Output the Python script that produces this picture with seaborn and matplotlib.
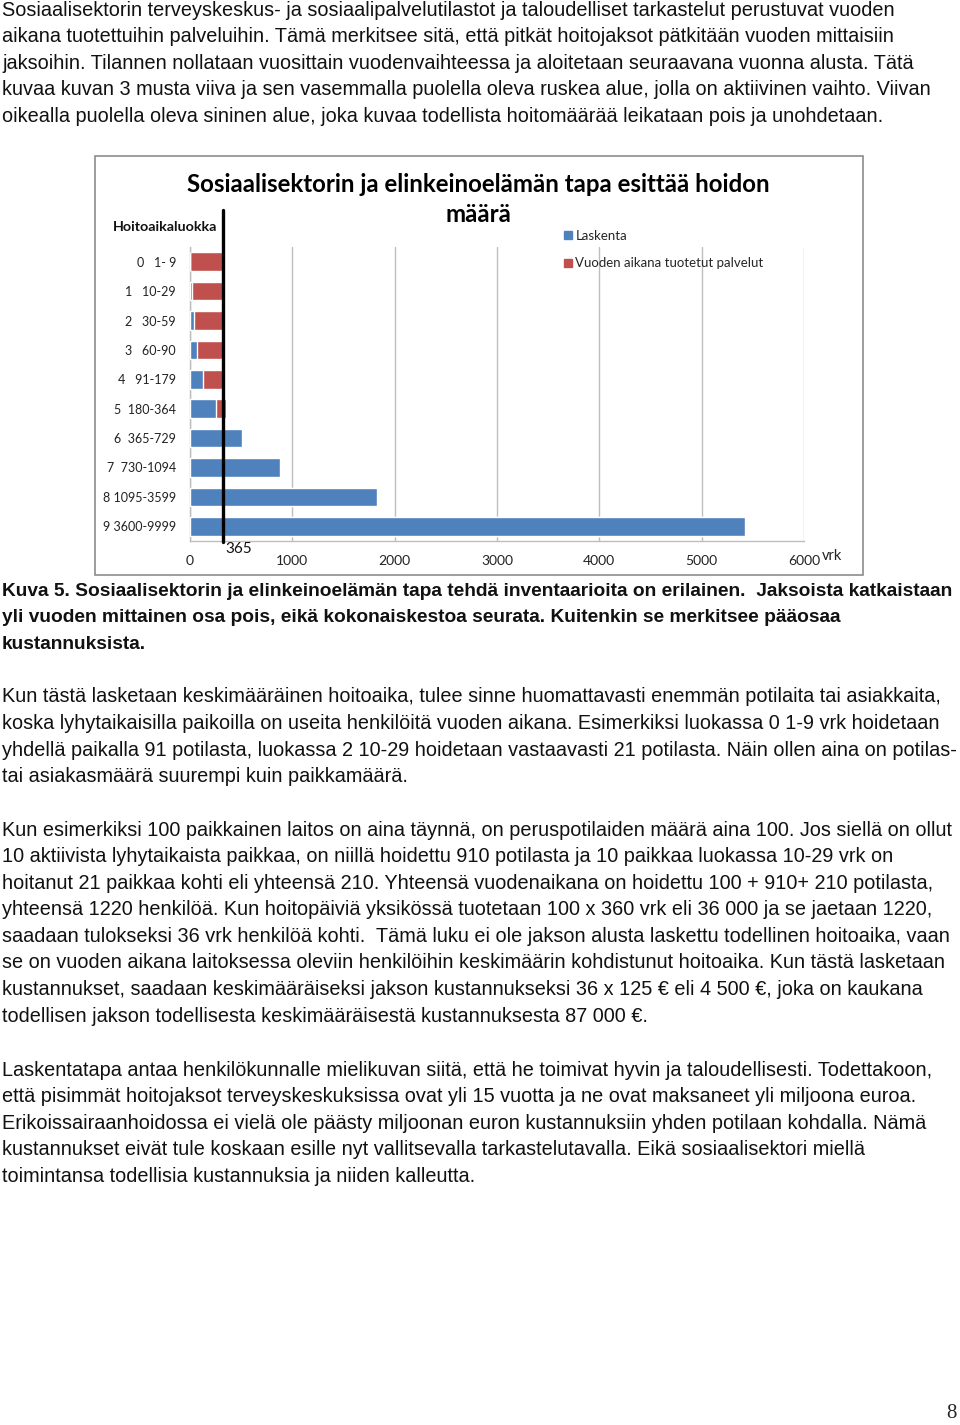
#!/usr/bin/env python3
# -*- coding: utf-8 -*-
"""Sivu 8: hoitoaikaluokat, Laskenta vs. vuoden aikana tuotetut palvelut"""

import matplotlib
matplotlib.use('Agg')
import matplotlib.pyplot as plt
import matplotlib.patches as mpatches
import pandas as pd
import seaborn as sns

# --- data -------------------------------------------------------------
CLASSES = ["0   1- 9", "1   10-29", "2   30-59", "3   60-90", "4   91-179",
           "5  180-364", "6  365-729", "7  730-1094", "8 1095-3599", "9 3600-9999"]
LASKENTA = [0, 15, 39, 71, 130, 251, 511, 879, 1823, 5427]
PALVELUT = [325, 310, 286, 254, 202, 101, 0, 0, 0, 0]
X_TICKS = [0, 1000, 2000, 3000, 4000, 5000, 6000]
YEAR_LINE = 325          # where the black line sits on the axis
YEAR_LABEL = "365"

TITLE_LINES = ["Sosiaalisektorin ja elinkeinoelämän tapa esittää hoidon", "määrä"]
LEGEND_LABELS = ["Laskenta", "Vuoden aikana tuotetut palvelut"]
BLUE = '#4F81BD'
RED = '#C0504D'

PARA_TOP = [
    "Sosiaalisektorin terveyskeskus- ja sosiaalipalvelutilastot ja taloudelliset tarkastelut perustuvat vuoden",
    "aikana tuotettuihin palveluihin. Tämä merkitsee sitä, että pitkät hoitojaksot pätkitään vuoden mittaisiin",
    "jaksoihin. Tilannen nollataan vuosittain vuodenvaihteessa ja aloitetaan seuraavana vuonna alusta. Tätä",
    "kuvaa kuvan 3 musta viiva ja sen vasemmalla puolella oleva ruskea alue, jolla on aktiivinen vaihto. Viivan",
    "oikealla puolella oleva sininen alue, joka kuvaa todellista hoitomäärää leikataan pois ja unohdetaan.",
]
CAPTION = [
    "Kuva 5. Sosiaalisektorin ja elinkeinoelämän tapa tehdä inventaarioita on erilainen.  Jaksoista katkaistaan",
    "yli vuoden mittainen osa pois, eikä kokonaiskestoa seurata. Kuitenkin se merkitsee pääosaa",
    "kustannuksista.",
]
PARA_2 = [
    "Kun tästä lasketaan keskimääräinen hoitoaika, tulee sinne huomattavasti enemmän potilaita tai asiakkaita,",
    "koska lyhytaikaisilla paikoilla on useita henkilöitä vuoden aikana. Esimerkiksi luokassa 0 1-9 vrk hoidetaan",
    "yhdellä paikalla 91 potilasta, luokassa 2 10-29 hoidetaan vastaavasti 21 potilasta. Näin ollen aina on potilas-",
    "tai asiakasmäärä suurempi kuin paikkamäärä.",
]
PARA_3 = [
    "Kun esimerkiksi 100 paikkainen laitos on aina täynnä, on peruspotilaiden määrä aina 100. Jos siellä on ollut",
    "10 aktiivista lyhytaikaista paikkaa, on niillä hoidettu 910 potilasta ja 10 paikkaa luokassa 10-29 vrk on",
    "hoitanut 21 paikkaa kohti eli yhteensä 210. Yhteensä vuodenaikana on hoidettu 100 + 910+ 210 potilasta,",
    "yhteensä 1220 henkilöä. Kun hoitopäiviä yksikössä tuotetaan 100 x 360 vrk eli 36 000 ja se jaetaan 1220,",
    "saadaan tulokseksi 36 vrk henkilöä kohti.  Tämä luku ei ole jakson alusta laskettu todellinen hoitoaika, vaan",
    "se on vuoden aikana laitoksessa oleviin henkilöihin keskimäärin kohdistunut hoitoaika. Kun tästä lasketaan",
    "kustannukset, saadaan keskimääräiseksi jakson kustannukseksi 36 x 125 € eli 4 500 €, joka on kaukana",
    "todellisen jakson todellisesta keskimääräisestä kustannuksesta 87 000 €.",
]
PARA_4 = [
    "Laskentatapa antaa henkilökunnalle mielikuvan siitä, että he toimivat hyvin ja taloudellisesti. Todettakoon,",
    "että pisimmät hoitojaksot terveyskeskuksissa ovat yli 15 vuotta ja ne ovat maksaneet yli miljoona euroa.",
    "Erikoissairaanhoidossa ei vielä ole päästy miljoonan euron kustannuksiin yhden potilaan kohdalla. Nämä",
    "kustannukset eivät tule koskaan esille nyt vallitsevalla tarkastelutavalla. Eikä sosiaalisektori miellä",
    "toimintansa todellisia kustannuksia ja niiden kalleutta.",
]

sns.set_style('white')
plt.rcParams['font.family'] = ['Lato', 'DejaVu Sans']

W, H = 960, 1425
BODY_FONT = ['Liberation Sans', 'DejaVu Sans']
LINE_STEP = 26.6


def fy(py):
    """pixel row -> figure fraction"""
    return 1 - py / H


def write_block(fig, lines, y0, bold=False, size=14.3):
    for i, line in enumerate(lines):
        fig.text(2 / W, fy(y0 + i * LINE_STEP), line, family=BODY_FONT,
                 fontsize=size, va='center', ha='left',
                 fontweight='bold' if bold else 'normal', color='#111111')


fig = plt.figure(figsize=(W / 100, H / 100), dpi=100)

# text of the page
write_block(fig, PARA_TOP, 10)
write_block(fig, CAPTION, 591, bold=True, size=13.8)
write_block(fig, PARA_2, 697)
write_block(fig, PARA_3, 830)
write_block(fig, PARA_4, 1070)
fig.text(951 / W, fy(1413), "8", family=['Liberation Serif', 'DejaVu Serif'],
         fontsize=15, ha='center', va='center')

# chart frame
fig.patches.append(mpatches.Rectangle((95 / W, fy(575)), (863 - 95) / W, (575 - 156) / H,
                                      transform=fig.transFigure, fill=False,
                                      edgecolor='#8C8C8C', linewidth=1.2))

ax_l, ax_r, ax_t, ax_b = 190, 804, 247, 541
ax = fig.add_axes([ax_l / W, fy(ax_b), (ax_r - ax_l) / W, (ax_b - ax_t) / H])

df = pd.DataFrame({'luokka': CLASSES, 'laskenta': LASKENTA, 'palvelut': PALVELUT})
df['yhteensa'] = df['laskenta'] + df['palvelut']

# stacked look: total in red, blue part over it
sns.barplot(data=df, x='yhteensa', y='luokka', orient='h', color=RED,
            saturation=1, width=0.63, ax=ax, zorder=2)
sns.barplot(data=df, x='laskenta', y='luokka', orient='h', color=BLUE,
            saturation=1, width=0.63, ax=ax, zorder=3)

ax.set_xlim(X_TICKS[0], X_TICKS[-1])
ax.set_xticks(X_TICKS)
ax.set_xticklabels([str(t) for t in X_TICKS], fontsize=10, color='#222222')
ax.tick_params(axis='y', labelsize=9, colors='#222222', length=0, pad=10)
ax.tick_params(axis='x', length=0, pad=10)
ax.set_xlabel('')
ax.set_ylabel('')
ax.grid(axis='x', color='#BDBDBD', linewidth=1, zorder=0)
ax.set_axisbelow(True)
for side in ['top', 'right']:
    ax.spines[side].set_visible(False)
for side in ['left', 'bottom']:
    ax.spines[side].set_color('#BDBDBD')
    ax.spines[side].set_linewidth(1)

# black year line, runs above the plot area
ax.axvline(YEAR_LINE, ymin=-0.005, ymax=(ax_b - 210) / (ax_b - ax_t),
           color='black', linewidth=2.4, clip_on=False, zorder=5)
ax.text(YEAR_LINE + 20, -0.028, YEAR_LABEL, transform=ax.get_xaxis_transform(),
        fontsize=11, ha='left', va='center', color='#111111')
ax.text(6170, -0.052, "vrk", transform=ax.get_xaxis_transform(),
        fontsize=10.5, ha='left', va='center', color='#222222')

# title and axis caption
for i, line in enumerate(TITLE_LINES):
    fig.text(478 / W, fy(184 + i * 31), line, fontsize=17.3, fontweight='bold',
             ha='center', va='center', color='black')
fig.text(113 / W, fy(227), "Hoitoaikaluokka", fontsize=10.3, fontweight='bold',
         ha='left', va='center', color='#111111')

handles = [mpatches.Patch(color=BLUE, label=LEGEND_LABELS[0]),
           mpatches.Patch(color=RED, label=LEGEND_LABELS[1])]
fig.legend(handles=handles, loc='upper left', bbox_to_anchor=(557 / W, fy(223)),
           frameon=False, fontsize=9.5, handlelength=0.6, handleheight=0.6,
           handletextpad=0.3, labelspacing=1.2, borderpad=0)

plt.savefig('out.png', dpi=100)
plt.close()
